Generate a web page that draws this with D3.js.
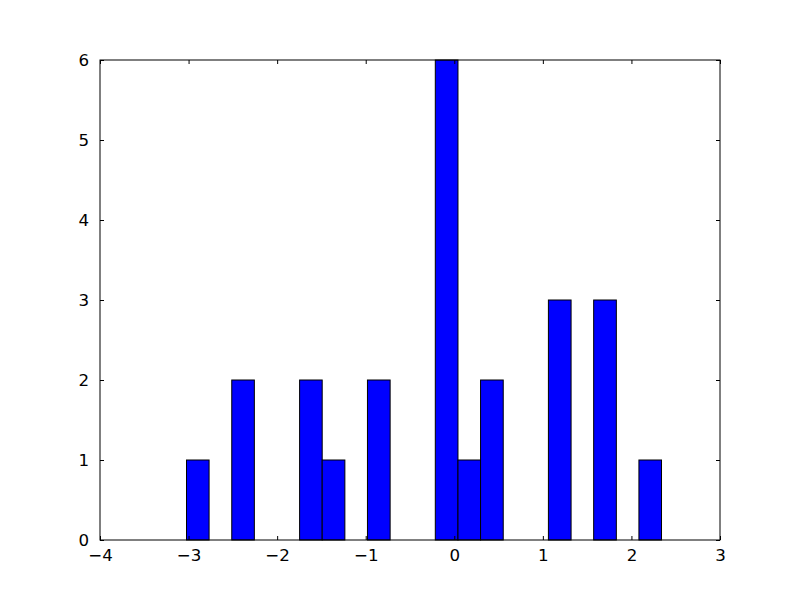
<!DOCTYPE html>
<html><head><meta charset="utf-8">
<script src="https://cdn.jsdelivr.net/npm/d3@7"></script>
<style>body{margin:0;background:#fff}svg{display:block}</style>
</head><body>
<script>
const binLefts  = [-3.029,-2.774,-2.518,-2.263,-2.007,-1.752,-1.497,-1.241,-0.986,-0.730,-0.475,-0.220,0.036,0.291,0.547,0.802,1.057,1.313,1.568,1.824,2.079];
const binRights = [-2.774,-2.518,-2.263,-2.007,-1.752,-1.497,-1.241,-0.986,-0.730,-0.475,-0.220,0.036,0.291,0.547,0.802,1.057,1.313,1.568,1.824,2.079,2.334];
const counts    = [1,0,2,0,0,2,1,0,2,0,0,6,1,2,0,0,3,0,3,0,1];
const xTicks = [-4,-3,-2,-1,0,1,2,3];
const yTicks = [0,1,2,3,4,5,6];

const W=800,H=600, L=100,R=720,T=60,B=540;
const svg=d3.select("body").append("svg").attr("width",W).attr("height",H);
const x=d3.scaleLinear().domain([-4,3]).range([L,R]);
const y=d3.scaleLinear().domain([0,6]).range([B,T]);
const fmt=d=>String(d).replace("-","\u2212");

const bins=binLefts.map((l,i)=>({l,r:binRights[i],c:counts[i]})).filter(d=>d.c>0);
svg.append("g").attr("transform","translate(0.5,0)").selectAll("rect").data(bins).join("rect")
  .attr("x",d=>x(d.l)).attr("y",d=>y(d.c))
  .attr("width",d=>x(d.r)-x(d.l)).attr("height",d=>y(0)-y(d.c))
  .attr("fill","#0000ff").attr("stroke","#000").attr("stroke-width",1);

const font="DejaVu Sans";
const ax=(g,axis)=>g.call(axis).attr("font-size",null).attr("font-family",null)
  .call(g=>g.select(".domain").remove())
  .call(g=>g.selectAll("text").style("font-family",font).style("font-size","16.67px").attr("fill","#000"))
  .call(g=>g.selectAll("line").attr("stroke","#000"));
svg.append("g").attr("transform",`translate(0,${B})`)
  .call(g=>ax(g,d3.axisBottom(x).tickValues(xTicks).tickFormat(fmt).tickSizeInner(-4).tickSizeOuter(0).tickPadding(9)));
svg.append("g").attr("transform",`translate(0,${T})`)
  .call(g=>ax(g,d3.axisTop(x).tickValues(xTicks).tickFormat("").tickSizeInner(-4).tickSizeOuter(0)));
svg.append("g").attr("transform",`translate(${L},0)`)
  .call(g=>ax(g,d3.axisLeft(y).tickValues(yTicks).tickFormat(fmt).tickSizeInner(-4).tickSizeOuter(0).tickPadding(11)));
svg.append("g").attr("transform",`translate(${R},0)`)
  .call(g=>ax(g,d3.axisRight(y).tickValues(yTicks).tickFormat("").tickSizeInner(-4).tickSizeOuter(0)));

svg.append("rect").attr("x",L).attr("y",T).attr("width",R-L).attr("height",B-T)
  .attr("fill","none").attr("stroke","#000").attr("stroke-width",1);
</script>
</body></html>
